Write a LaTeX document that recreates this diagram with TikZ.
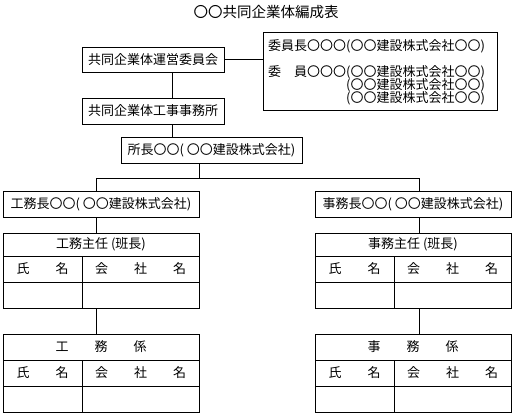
\documentclass[tikz,border=0pt]{standalone}
\usepackage{fontspec}
\setmainfont{Noto Sans CJK JP}
\newcommand\fsz{\fontsize{13pt}{13pt}\selectfont}
\newcommand\mybox[6]{\node[box,minimum width={((#4)-(#2))*1pt},minimum height={((#5)-(#3))*1pt}] (#1) at ({((#2)+(#4))/2},{((#3)+(#5))/2}) {#6};}
% name, x0, xm, x1, y0, header height, header text
\newcommand\mytable[7]{%
  \mybox{#1h}{#2}{#5}{#4}{#5+#6}{#7}
  \mybox{#1a}{#2}{#5+#6}{#3}{#5+#6+26}{氏　　名}
  \mybox{#1b}{#3}{#5+#6}{#4}{#5+#6+26}{会　　社　　名}
  \mybox{#1c}{#2}{#5+#6+26}{#3}{#5+#6+52}{}
  \mybox{#1d}{#3}{#5+#6+26}{#4}{#5+#6+52}{}
}
\begin{document}
\begin{tikzpicture}[x=1pt,y=-1pt,
  box/.style={draw,line width=1pt,inner sep=0pt,font=\fsz},
  txt/.style={inner sep=0pt,font=\fsz,anchor=west},
  ln/.style={line width=1pt}]
\useasboundingbox (0,0) rectangle (513,415);
\fill[white] (0,0) rectangle (513,415);
\node[inner sep=0pt,font=\fontsize{14.5pt}{14.5pt}\selectfont] (title) at (266,12) {〇〇共同企業体編成表};
\mybox{b1}{82}{47}{224}{72}{共同企業体運営委員会}
\mybox{cm}{263}{32}{497}{110}{}
\node[txt] (c1) at (268,46) {委員長〇〇〇(〇〇建設株式会社〇〇)};
\node[txt] (c2) at (268,72) {委　員〇〇〇(〇〇建設株式会社〇〇)};
\node[txt] (c3) at (268,85) {\phantom{委　員〇〇〇}(〇〇建設株式会社〇〇)};
\node[txt] (c4) at (268,98) {\phantom{委　員〇〇〇}(〇〇建設株式会社〇〇)};
\mybox{b2}{82}{98}{224}{124}{共同企業体工事事務所}
\mybox{b3}{121}{137}{302}{163}{所長〇〇( 〇〇建設株式会社)}
\mybox{L}{3}{191}{199}{217}{工務長〇〇( 〇〇建設株式会社)}
\mybox{R}{315}{191}{511}{217}{事務長〇〇( 〇〇建設株式会社)}
\mytable{tl}{3}{82}{199}{233}{23}{工務主任 (班長)}
\mytable{tr}{315}{394}{511}{233}{23}{事務主任 (班長)}
\mytable{ul}{3}{82}{199}{334}{26}{工　　務　　係}
\mytable{ur}{315}{394}{511}{334}{26}{事　　務　　係}
\coordinate (v1) at (172,0);
\coordinate (j) at (199,178);
\coordinate (jl) at (96,178);
\coordinate (jr) at (419,178);
\draw[ln] (b1.east) -- (b1.east -| cm.west);
\draw[ln] (b1.south -| v1) -- (b2.north -| v1);
\draw[ln] (b2.south -| v1) -- (b3.north -| v1);
\draw[ln] (b3.south -| j) -- (j);
\draw[ln] (L.north -| jl) -- (jl) -- (jr) -- (R.north -| jr);
\draw[ln] (L.south -| jl) -- (tlh.north -| jl);
\draw[ln] (R.south -| jr) -- (trh.north -| jr);
\draw[ln] (tld.south -| jl) -- (ulh.north -| jl);
\draw[ln] (trd.south -| jr) -- (urh.north -| jr);
\end{tikzpicture}
\end{document}
